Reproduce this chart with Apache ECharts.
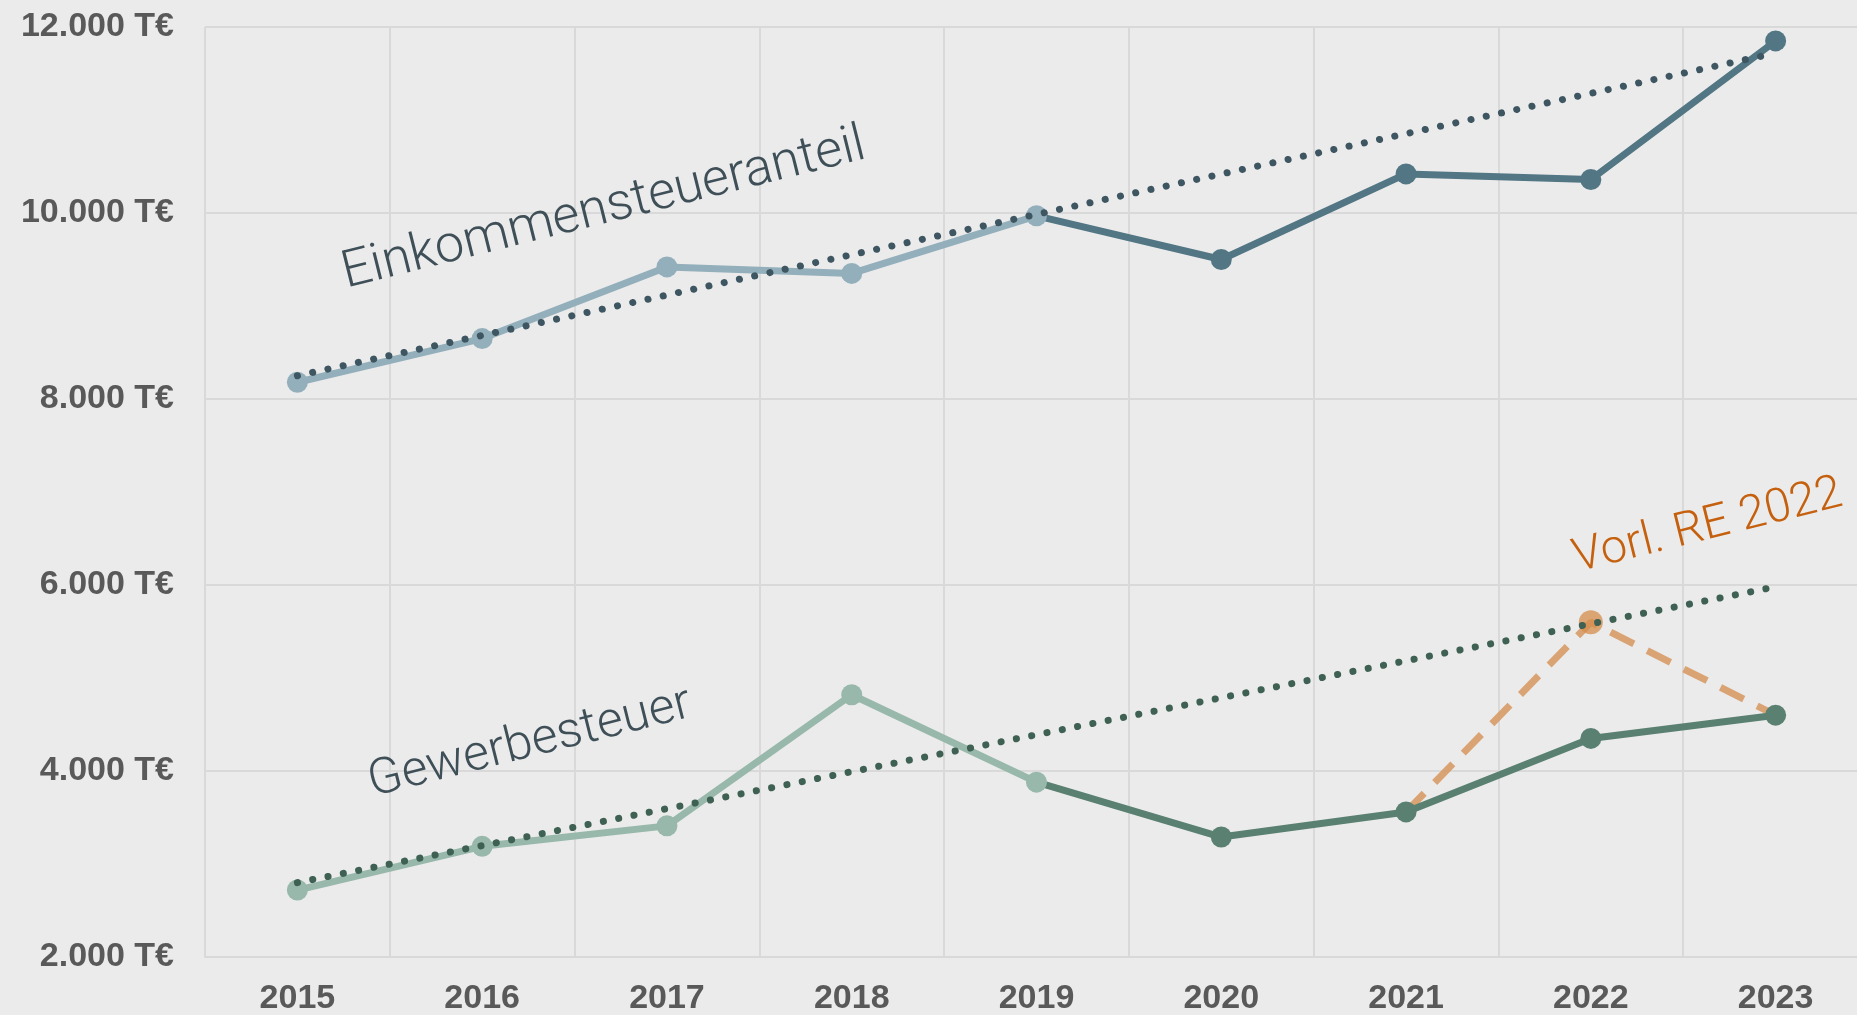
<!DOCTYPE html>
<html><head><meta charset="utf-8">
<script src="https://cdn.jsdelivr.net/npm/echarts@6/dist/echarts.min.js"></script>
<style>html,body{margin:0;padding:0;background:#ebebeb;}#c{width:1857px;height:1015px;}</style>
</head><body><div id="c"></div>
<script>
const years = ['2015','2016','2017','2018','2019','2020','2021','2022','2023'];
const einkommen = [8180, 8650, 9420, 9350, 9970, 9500, 10420, 10360, 11850];
const gewerbe = [2720, 3190, 3410, 4820, 3880, 3290, 3560, 4350, 4600];
const vorlRE = [null, null, null, null, null, null, 3560, 5600, 4600];
const einkommenTrend = [8250, 11720];
const gewerbeTrend = [2800, 5980];
const yTicks = [2000, 4000, 6000, 8000, 10000, 12000];
const labelEinkommen = 'Einkommensteueranteil';
const labelGewerbe = 'Gewerbesteuer';
const labelVorl = 'Vorl. RE 2022';

const splitAt = 4; // index of 2019
function part(arr, from, to){ return arr.map((v,i)=> (i>=from && i<=to && v!=null) ? v : '-'); }
function trendData(t){ return years.map((y,i)=> i===0 ? t[0] : (i===years.length-1 ? t[1] : '-')); }
function fmt(v){ return String(v).replace(/\B(?=(\d{3})+(?!\d))/g,'.') + ' T€'; }

const chart = echarts.init(document.getElementById('c'), null, {renderer:'canvas'});
const lw = 7, ss = 21;
const cEinLight='#93afbb', cEinDark='#527684', cGewLight='#97b8aa', cGewDark='#5a8071';
const option = {
  backgroundColor:'#ebebeb',
  animation:false,
  grid:{left:205,right:-11,top:27,bottom:58,containLabel:false,outerBoundsMode:'none'},
  xAxis:{type:'category',data:years,boundaryGap:true,
    axisLine:{show:true,lineStyle:{color:'#d9d9d9',width:2}},
    axisTick:{show:false},
    axisLabel:{color:'#595959',fontSize:34,fontWeight:'bold',fontFamily:'Liberation Sans, Arial',margin:25},
    splitLine:{show:true,interval:0,lineStyle:{color:'#d9d9d9',width:2}}},
  yAxis:{type:'value',min:yTicks[0],max:yTicks[yTicks.length-1],interval:2000,
    axisLine:{show:false},axisTick:{show:false},
    axisLabel:{color:'#595959',fontSize:34,fontWeight:'bold',fontFamily:'Liberation Sans, Arial',margin:31,formatter:fmt},
    splitLine:{show:true,lineStyle:{color:'#d9d9d9',width:2}}},
  series:[
    {type:'line',name:'vorl',z:2,
      lineStyle:{color:'rgba(214,150,95,0.85)',width:lw,type:[26,15],cap:'butt'},
      symbol:'circle',symbolSize:ss+3,
      itemStyle:{color:'rgba(214,140,75,0.75)'},
      data:vorlRE.map((v,i)=> v==null?'-':(i===7?{value:v}:{value:v,symbol:'none'}))},
    {type:'line',name:'ein2',data:part(einkommen,splitAt,8).map((v,i)=> i===splitAt?{value:v,symbol:'none'}:v),z:3,
      lineStyle:{color:cEinDark,width:lw},symbol:'circle',symbolSize:ss,showSymbol:true,itemStyle:{color:cEinDark}},
    {type:'line',name:'ein1',data:part(einkommen,0,splitAt),z:4,
      lineStyle:{color:cEinLight,width:lw},symbol:'circle',symbolSize:ss,itemStyle:{color:cEinLight}},
    {type:'line',name:'gew2',data:part(gewerbe,splitAt,8).map((v,i)=> i===splitAt?{value:v,symbol:'none'}:v),z:3,
      lineStyle:{color:cGewDark,width:lw},symbol:'circle',symbolSize:ss,itemStyle:{color:cGewDark}},
    {type:'line',name:'gew1',data:part(gewerbe,0,splitAt),z:4,
      lineStyle:{color:cGewLight,width:lw},symbol:'circle',symbolSize:ss,itemStyle:{color:cGewLight}},
    {type:'line',name:'einTrend',data:trendData(einkommenTrend),connectNulls:true,z:6,symbol:'none',
      lineStyle:{color:'#3e5661',width:7,type:[0.1,15.5],cap:'round'}},
    {type:'line',name:'gewTrend',data:trendData(gewerbeTrend),connectNulls:true,z:6,symbol:'none',
      lineStyle:{color:'#3f6153',width:7,type:[0.1,15.5],cap:'round'}}
  ],
  graphic:[
    {type:'text',x:604,y:210,rotation:14*Math.PI/180,z:10,
      style:{text:labelEinkommen,fill:'#3f4f58',font:'300 52px Roboto, "Noto Sans", sans-serif',align:'center',verticalAlign:'middle'}},
    {type:'text',x:530,y:744,rotation:14*Math.PI/180,z:10,
      style:{text:labelGewerbe,fill:'#3f4f58',font:'300 50px Roboto, "Noto Sans", sans-serif',align:'center',verticalAlign:'middle'}},
    {type:'text',x:1708,y:527,rotation:14*Math.PI/180,z:10,
      style:{text:labelVorl,fill:'#c5600f',font:'300 47px Roboto, "Noto Sans", sans-serif',align:'center',verticalAlign:'middle'}}
  ]
};
chart.setOption(option);
</script></body></html>
